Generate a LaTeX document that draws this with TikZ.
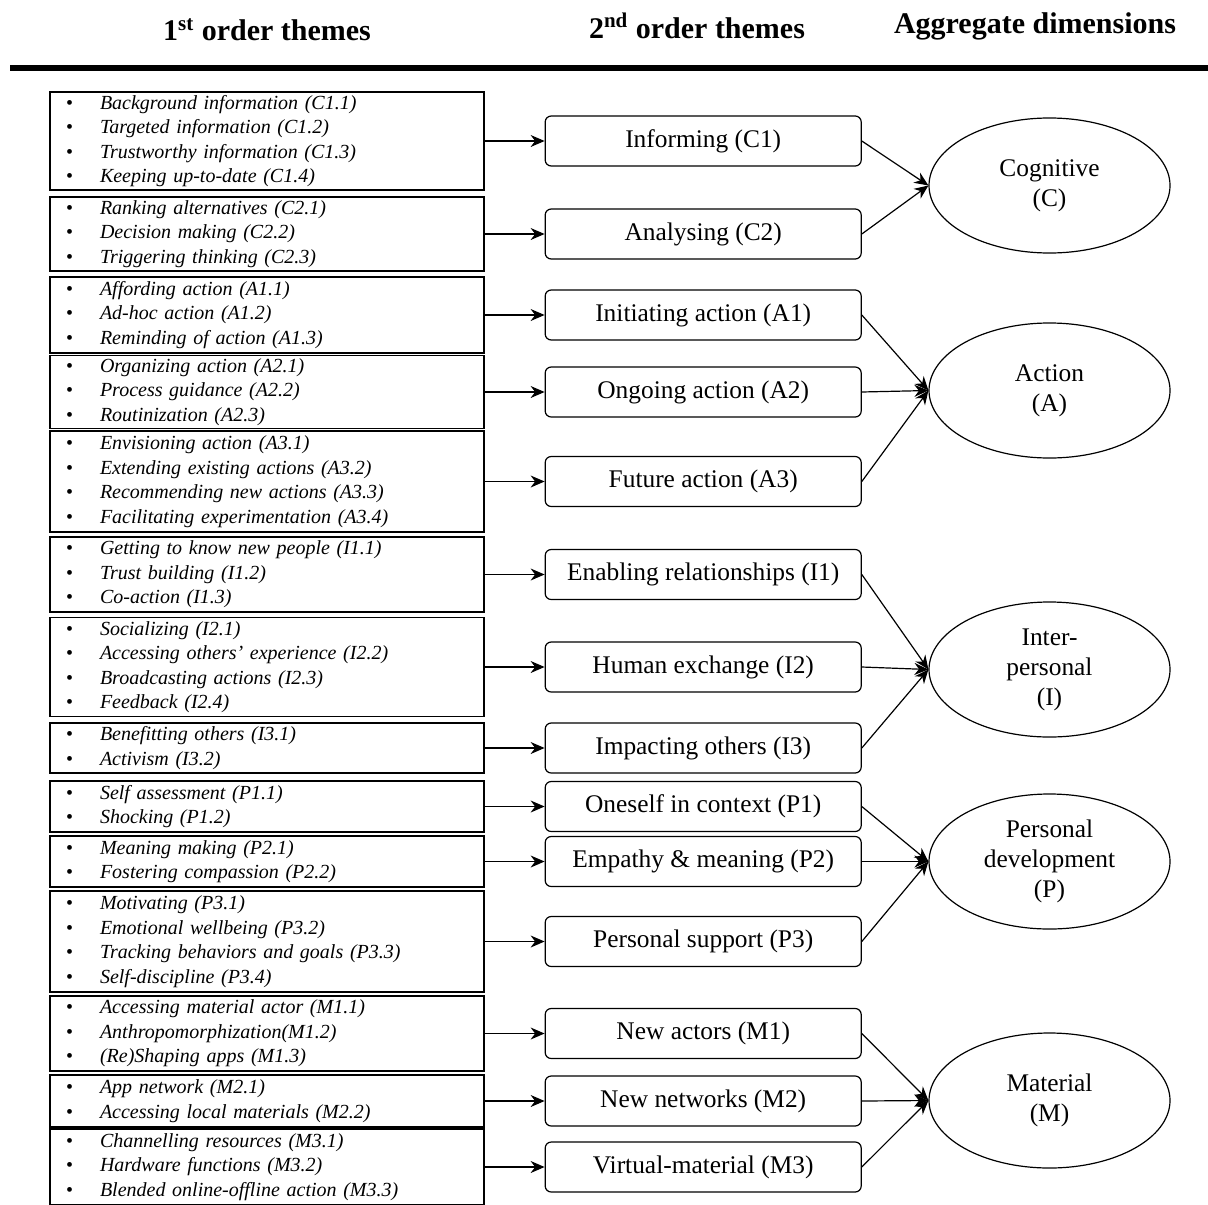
\documentclass[tikz,border=0pt]{standalone}
\usepackage{fontspec}
\setmainfont{Liberation Serif}
\usepackage{tikz}
\usetikzlibrary{positioning,arrows.meta,shapes.geometric}

\newcommand{\titem}[1]{\strut\makebox[17pt][l]{\textbullet}\textit{#1}}

\begin{document}
\begin{tikzpicture}[x=0.5pt,y=-0.5pt,
  firstbox/.style={draw, line width=0.6pt, inner xsep=8pt, inner ysep=0pt, text width=201pt, align=left, minimum height=#1*0.5pt, font=\fontsize{10}{12.25}\selectfont},
  secondbox/.style={draw, rounded corners=3pt, line width=0.6pt, minimum width=158pt, minimum height=25pt, inner sep=0pt, font=\fontsize{12.7}{15}\selectfont},
  dimnode/.style={draw, ellipse, line width=0.6pt, minimum width=120.5pt, minimum height=67.5pt, inner sep=0pt, align=center, font=\fontsize{12.7}{15}\selectfont},
  head/.style={font=\fontsize{15}{18}\selectfont\bfseries},
  arr/.style={-{Stealth[length=7pt,width=6pt]}, line width=0.6pt},
  node distance=30pt]
  \useasboundingbox (0,0) rectangle (1208,1204);

  %Headers
  \node[head] (head1) at (267,30) {1\textsuperscript{st} order themes};
  \node[head] (head2) at (697,26) {2\textsuperscript{nd} order themes};
  \node[head] (head3) at (1035,26) {Aggregate dimensions};
  \draw[line width=3pt] (10,68) -- (1208,68);

  %1st order themes
  \node[firstbox=98] (c1) at (267,141) {\titem{Background information (C1.1)}\\ \titem{Targeted information (C1.2)}\\ \titem{Trustworthy information (C1.3)}\\ \titem{Keeping up-to-date (C1.4)}};
  \node[firstbox=74] (c2) at (267,234) {\titem{Ranking alternatives (C2.1)}\\ \titem{Decision making (C2.2)}\\ \titem{Triggering thinking (C2.3)}};
  \node[firstbox=76] (a1) at (267,315) {\titem{Affording action (A1.1)}\\ \titem{Ad-hoc action (A1.2)}\\ \titem{Reminding of action (A1.3)}};
  \node[firstbox=70] (a2) at (267,392) {\titem{Organizing action (A2.1)}\\ \titem{Process guidance (A2.2)}\\ \titem{Routinization (A2.3)}};
  \node[firstbox=101] (a3) at (267,481.5) {\titem{Envisioning action (A3.1)}\\ \titem{Extending existing actions (A3.2)}\\ \titem{Recommending new actions (A3.3)}\\ \titem{Facilitating experimentation (A3.4)}};
  \node[firstbox=75] (i1) at (267,574.5) {\titem{Getting to know new people (I1.1)}\\ \titem{Trust building (I1.2)}\\ \titem{Co-action (I1.3)}};
  \node[firstbox=99] (i2) at (267,667) {\titem{Socializing (I2.1)}\\ \titem{Accessing others' experience (I2.2)}\\ \titem{Broadcasting actions (I2.3)}\\ \titem{Feedback (I2.4)}};
  \node[firstbox=50] (i3) at (267,748) {\titem{Benefitting others (I3.1)}\\ \titem{Activism (I3.2)}};
  \node[firstbox=51] (p1) at (267,806.5) {\titem{Self assessment (P1.1)}\\ \titem{Shocking (P1.2)}};
  \node[firstbox=51] (p2) at (267,861.5) {\titem{Meaning making (P2.1)}\\ \titem{Fostering compassion (P2.2)}};
  \node[firstbox=101] (p3) at (267,941.5) {\titem{Motivating (P3.1)}\\ \titem{Emotional wellbeing (P3.2)}\\ \titem{Tracking behaviors and goals (P3.3)}\\ \titem{Self-discipline (P3.4)}};
  \node[firstbox=75] (m1) at (267,1033.5) {\titem{Accessing material actor (M1.1)}\\ \titem{Anthropomorphization(M1.2)}\\ \titem{(Re)Shaping apps (M1.3)}};
  \node[firstbox=52] (m2) at (267,1101) {\titem{App network (M2.1)}\\ \titem{Accessing local materials (M2.2)}};
  \node[firstbox=76] (m3) at (267,1167) {\titem{Channelling resources (M3.1)}\\ \titem{Hardware functions (M3.2)}\\ \titem{Blended online-offline action (M3.3)}};

  %2nd order themes
  \node[secondbox, right=of c1] (c1m) {Informing (C1)};
  \node[secondbox, right=of c2] (c2m) {Analysing (C2)};
  \node[secondbox, right=of a1] (a1m) {Initiating action (A1)};
  \node[secondbox, right=of a2] (a2m) {Ongoing action (A2)};
  \node[secondbox, right=of a3] (a3m) {Future action (A3)};
  \node[secondbox, right=of i1] (i1m) {Enabling relationships (I1)};
  \node[secondbox, right=of i2] (i2m) {Human exchange (I2)};
  \node[secondbox, right=of i3] (i3m) {Impacting others (I3)};
  \node[secondbox, right=of p1] (p1m) {Oneself in context (P1)};
  \node[secondbox, right=of p2] (p2m) {Empathy \& meaning (P2)};
  \node[secondbox, right=of p3] (p3m) {Personal support (P3)};
  \node[secondbox, right=of m1] (m1m) {New actors (M1)};
  \node[secondbox, right=of m2] (m2m) {New networks (M2)};
  \node[secondbox, right=of m3] (m3m) {Virtual-material (M3)};

  %Aggregate dimensions
  \node[dimnode] (cog) at (1049.5,185.5) {Cognitive\\(C)};
  \node[dimnode] (act) at (1049.5,390.5) {Action\\(A)};
  \node[dimnode] (inter) at (1049.5,669.5) {Inter-\\personal\\(I)};
  \node[dimnode] (pers) at (1049.5,861.5) {Personal\\development\\(P)};
  \node[dimnode] (mat) at (1049.5,1100.5) {Material\\(M)};

  %Lines
  \foreach \n in {c1,c2,a1,a2,a3,i1,i2,i3,p1,p2,p3,m1,m2,m3}
    \draw[arr] (\n) -- (\n m);
  \foreach \n in {c1,c2}
    \draw[arr] (\n m.east) -- (cog.west);
  \foreach \n in {a1,a2,a3}
    \draw[arr] (\n m.east) -- (act.west);
  \foreach \n in {i1,i2,i3}
    \draw[arr] (\n m.east) -- (inter.west);
  \foreach \n in {p1,p2,p3}
    \draw[arr] (\n m.east) -- (pers.west);
  \foreach \n in {m1,m2,m3}
    \draw[arr] (\n m.east) -- (mat.west);
\end{tikzpicture}
\end{document}
